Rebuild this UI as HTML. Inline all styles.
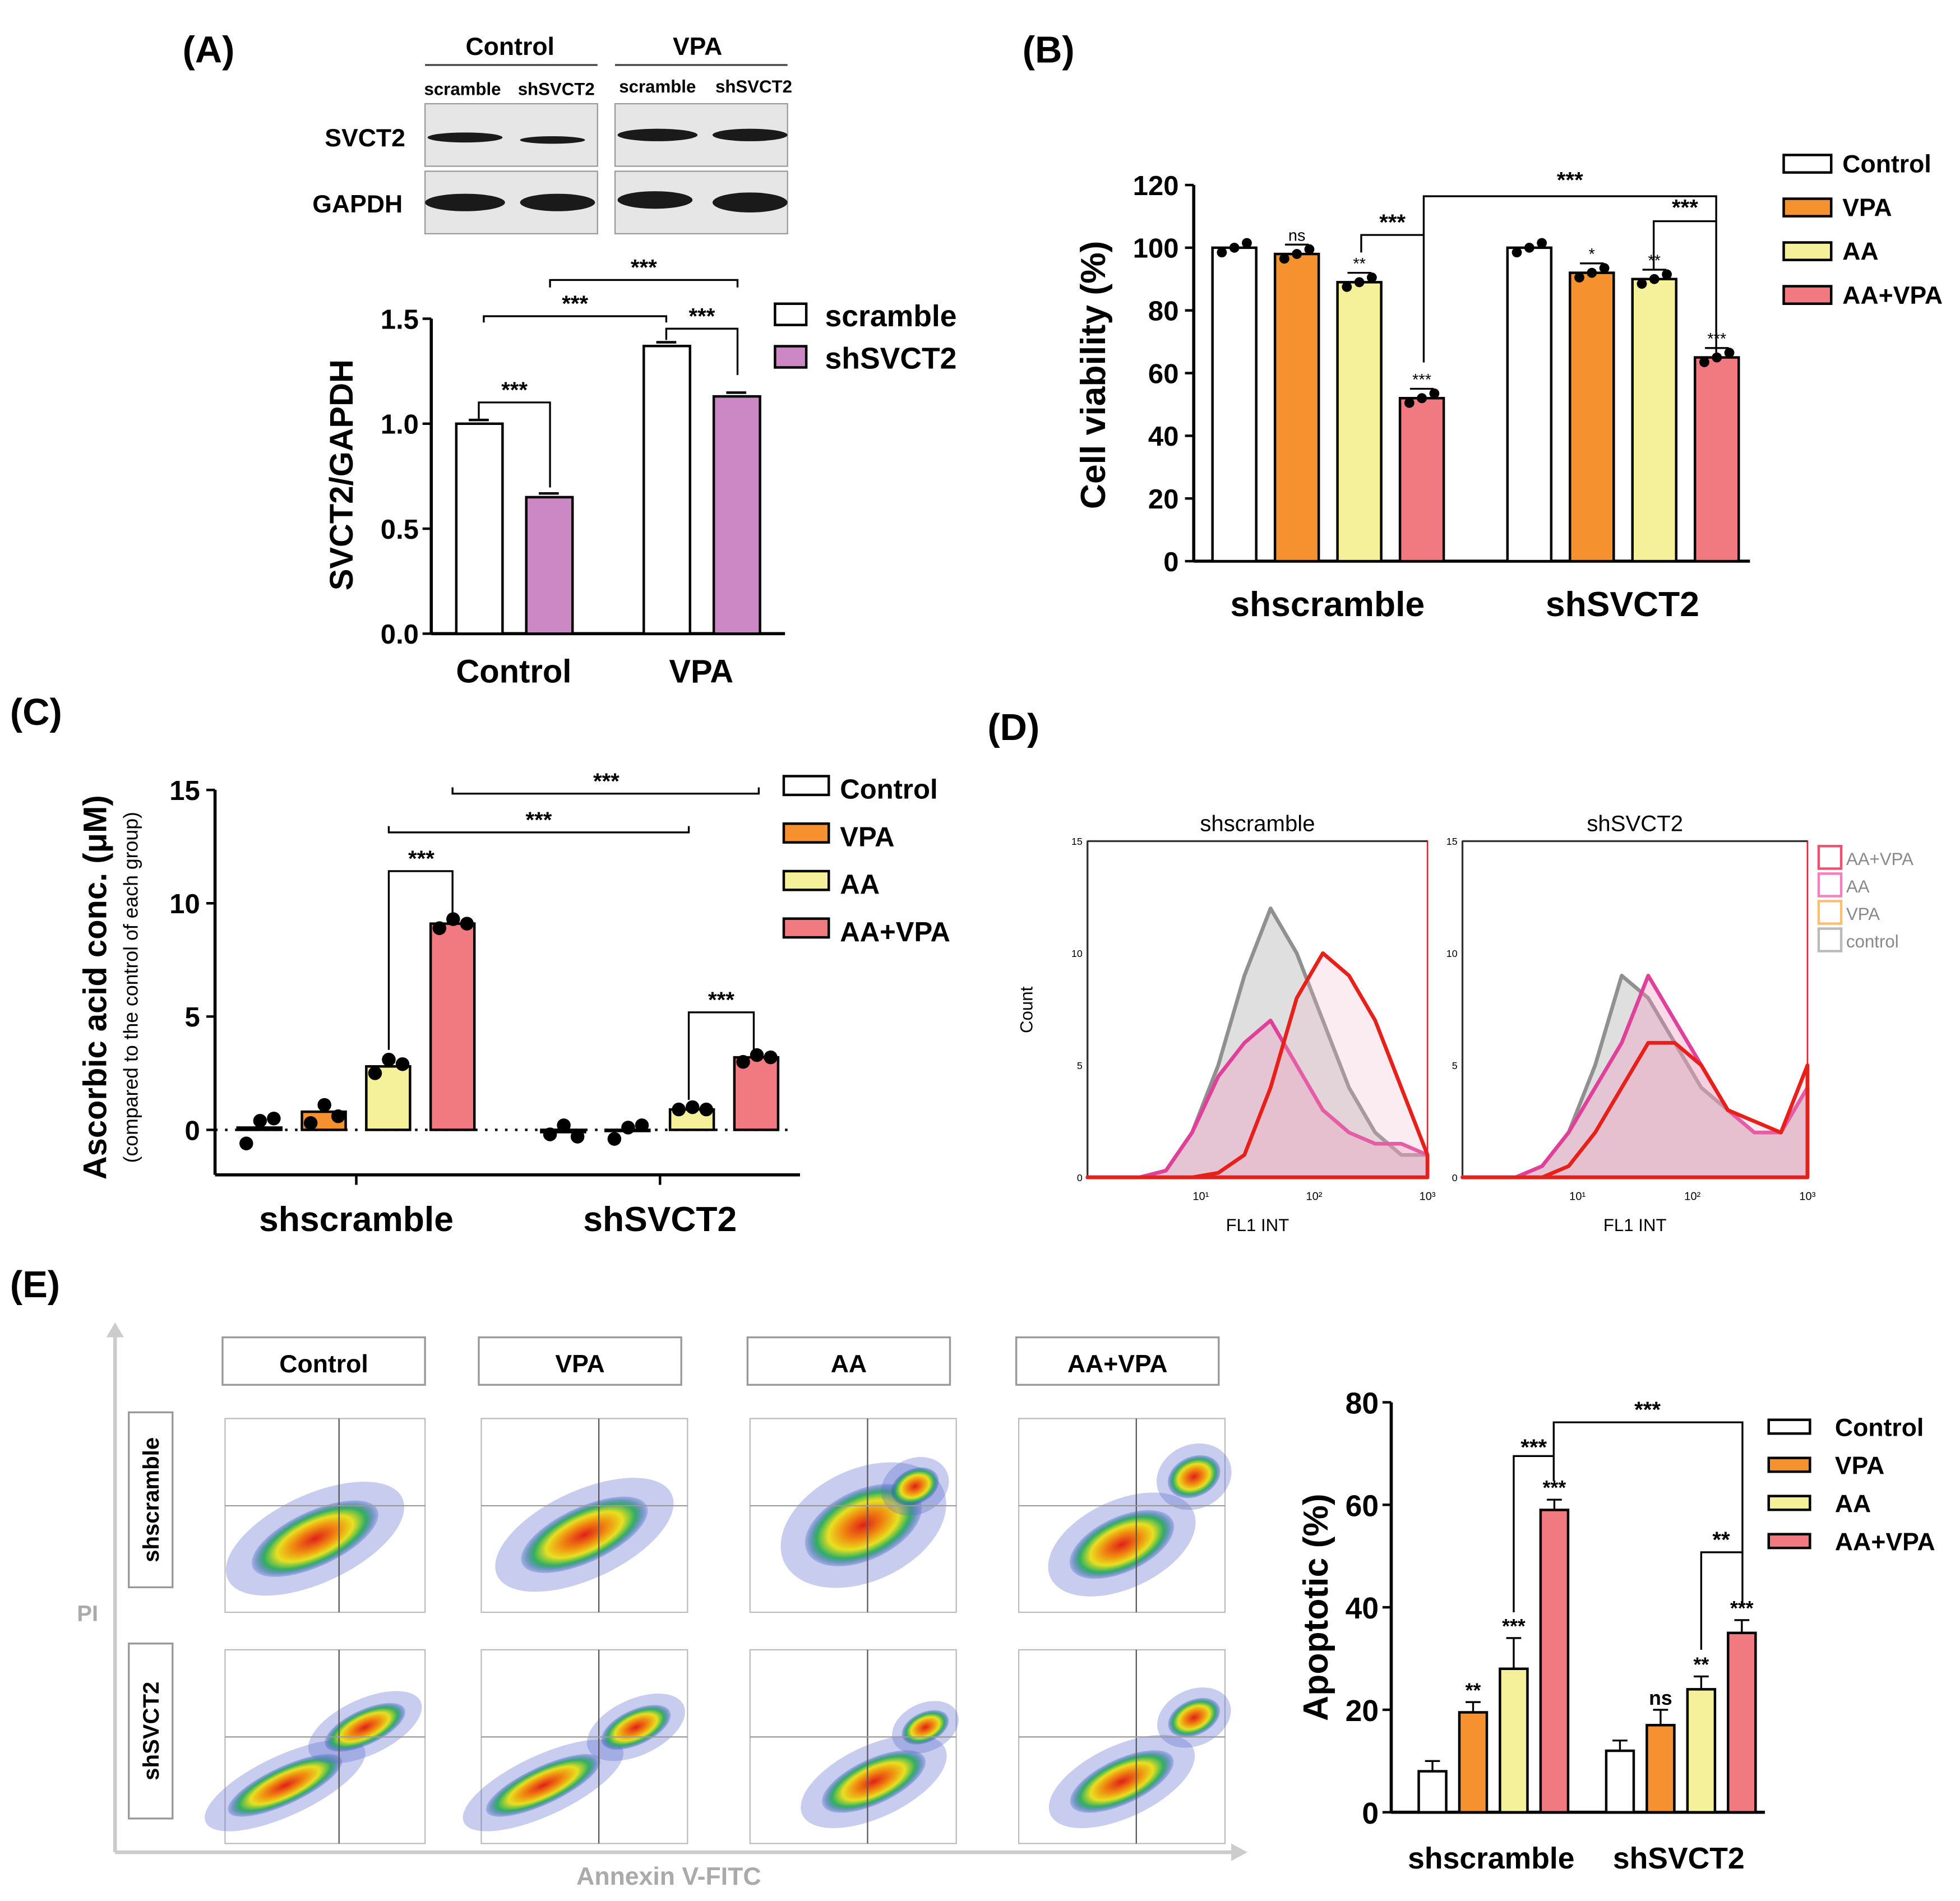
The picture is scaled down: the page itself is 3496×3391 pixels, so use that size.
<!DOCTYPE html>
<html><head><meta charset="utf-8"><style>
html,body{margin:0;padding:0;background:#fff}
svg{display:block}
text{font-family:"Liberation Sans",sans-serif}
</style></head><body>
<svg id="fig" width="3496" height="3391" viewBox="0 0 1568 1521" xmlns="http://www.w3.org/2000/svg">
<defs>
<radialGradient id="dens" cx="50%" cy="50%" r="50%">
<stop offset="0" stop-color="#e0201a"/><stop offset="0.35" stop-color="#f08a10"/><stop offset="0.6" stop-color="#e8e020"/><stop offset="0.8" stop-color="#30b060"/><stop offset="1" stop-color="#2040c0" stop-opacity="0.2"/>
</radialGradient>
</defs>
<g id="root"></g>
<!-- static labels -->
<text x="146" y="50" font-size="30" font-weight="bold">(A)</text>
<text x="818" y="50" font-size="30" font-weight="bold">(B)</text>
<text x="8" y="580" font-size="30" font-weight="bold">(C)</text>
<text x="790" y="592" font-size="30" font-weight="bold">(D)</text>
<text x="8" y="1038" font-size="30" font-weight="bold">(E)</text>
</svg>
<script>
// ---- data ----
const aCats=["Control","VPA"];
const aScramble=[1.0,1.37];
const aShSVCT2=[0.65,1.13];
const aTicks=["0.0","0.5","1.0","1.5"];
const bGroups=["shscramble","shSVCT2"];
const bSeries=["Control","VPA","AA","AA+VPA"];
const bShscramble=[100,98,89,52];
const bShSVCT2=[100,92,90,65];
const bTicks=[0,20,40,60,80,100,120];
const cShscramble=[0.1,0.8,2.8,9.1];
const cShSVCT2=[-0.1,-0.05,0.9,3.2];
const cPtsShscramble=[[-0.6,0.4,0.5],[0.3,1.1,0.6],[2.5,3.1,2.9],[8.9,9.3,9.1]];
const cPtsShSVCT2=[[-0.2,0.2,-0.3],[-0.4,0.1,0.2],[0.9,1.0,0.9],[3.0,3.3,3.2]];
const cTicks=[0,5,10,15];
const eShscramble=[8,19.5,28,59];
const eShSVCT2=[12,17,24,35];
const eErrShscramble=[2,2,6,2];
const eErrShSVCT2=[2,3,2.5,2.5];
const eTicks=[0,20,40,60,80];
const dLeftControl=[0,0,0,0.3,2,5,9,12,10,7,4,2,1,1];
const dLeftAA=[0,0,0,0.3,2,4.5,6,7,5,3,2,1.5,1.5,1];
const dLeftAAVPA=[0,0,0,0,0,0.2,1,4,8,10,9,7,4,1];
const dRightControl=[0,0,0,0.5,2,5,9,8,6,4,3,2,2,4];
const dRightAA=[0,0,0,0.5,2,4,6,9,7,5,3,2,2,4];
const dRightAAVPA=[0,0,0,0,0.5,2,4,6,6,5,3,2.5,2,5];

const NS="http://www.w3.org/2000/svg";
const root=document.getElementById('root');
function mk(tag,attrs,name,parent){
  const el=document.createElementNS(NS,tag);
  for(const k in attrs)el.setAttribute(k,attrs[k]);
  
  
  (parent||root).appendChild(el);return el;
}
function txt(x,y,s,size,name,extra){
  const t=mk('text',Object.assign({x:x,y:y,'font-size':size,'text-anchor':'middle','font-weight':'bold'},extra||{}),name);
  t.textContent=s;return t;
}
const fills=["#ffffff","#f5922f","#f5f19a","#f07a80"];

// ---------- Panel A blot ----------
txt(408,44,"Control",20,"blot-header-control");
txt(558,44,"VPA",20,"blot-header-vpa");
mk('line',{x1:340,y1:52,x2:478,y2:52,stroke:'#444','stroke-width':1.5},"blot-line-control");
mk('line',{x1:492,y1:52,x2:630,y2:52,stroke:'#444','stroke-width':1.5},"blot-line-vpa");
txt(370,76,"scramble",14,"blot-lane-1");txt(445,76,"shSVCT2",14,"blot-lane-2");
txt(526,74,"scramble",14,"blot-lane-3");txt(603,74,"shSVCT2",14,"blot-lane-4");
txt(292,117,"SVCT2",20,"blot-row-svct2");txt(286,170,"GAPDH",20,"blot-row-gapdh");
[[340,83],[492,83],[340,137],[492,137]].forEach((p,i)=>{
  mk('rect',{x:p[0],y:p[1],width:138,height:50,fill:'#e6e6e6',stroke:'#999'},"blot-panel");
});
[[372,110,30,4],[442,112,26,3],[526,108,32,5],[600,108,30,5],[372,162,32,7],[446,162,30,7],[524,160,30,7],[600,162,30,8]].forEach(b=>{
  mk('ellipse',{cx:b[0],cy:b[1],rx:b[2],ry:b[3],fill:'#1a1a1a'},"blot-band");
});
// ---------- Panel A chart ----------
(function(){
  const x0=345,y0=507,k=168;
  const y=v=>y0-v*k;
  mk('line',{x1:x0,y1:y(1.5),x2:x0,y2:y0,stroke:'#000','stroke-width':2.5},"a-y-axis");
  mk('line',{x1:x0,y1:y0,x2:628,y2:y0,stroke:'#000','stroke-width':2.5},"a-x-axis");
  aTicks.forEach(t=>{const yy=y(+t);mk('line',{x1:x0-7,y1:yy,x2:x0,y2:yy,stroke:'#000','stroke-width':2},"a-tick");
    txt(x0-10,yy+8,t,22,"a-tick-label",{'text-anchor':'end'});});
  const cx=[383,533];
  aCats.forEach((c,i)=>{
    const b1=mk('rect',{x:cx[i]-18,y:y(aScramble[i]),width:37,height:aScramble[i]*k,fill:'#fff',stroke:'#000','stroke-width':2},"a-bar-scramble");
    const b2=mk('rect',{x:cx[i]+38,y:y(aShSVCT2[i]),width:37,height:aShSVCT2[i]*k,fill:'#cc88c4',stroke:'#000','stroke-width':2},"a-bar-shsvct2");
    mk('line',{x1:cx[i]-8,y1:y(aScramble[i])-3,x2:cx[i]+8,y2:y(aScramble[i])-3,stroke:'#000','stroke-width':2},"a-error-bar");
    mk('line',{x1:cx[i]+48,y1:y(aShSVCT2[i])-3,x2:cx[i]+64,y2:y(aShSVCT2[i])-3,stroke:'#000','stroke-width':2},"a-error-bar");
    txt(cx[i]+28,546,c,26,"a-x-label");
  });
  txt(0,0,"SVCT2/GAPDH",26,"a-y-title",{transform:'translate(282,380) rotate(-90)'});
  // brackets
  const br=(x1,x2,yt,ya,yb,name,sx)=>{mk('polyline',{points:`${x1},${ya} ${x1},${yt} ${x2},${yt} ${x2},${yb}`,fill:'none',stroke:'#000','stroke-width':1.5},name);txt((x1+x2)/2,yt-4,"***",18,name+"-label");};
  br(383,440,322,335,390,"a-bracket-control");
  br(533,590,263,272,300,"a-bracket-vpa");
  br(387,533,253,258,258,"a-bracket-scramble");
  br(440,590,224,230,230,"a-bracket-shsvct2");
  mk('rect',{x:620,y:243,width:25,height:17,fill:'#fff',stroke:'#000','stroke-width':2},"a-legend-swatch-scramble");
  txt(660,261,"scramble",24,"a-legend-scramble",{'text-anchor':'start'});
  mk('rect',{x:620,y:277,width:25,height:17,fill:'#cc88c4',stroke:'#000','stroke-width':2},"a-legend-swatch-shsvct2");
  txt(660,295,"shSVCT2",24,"a-legend-shsvct2",{'text-anchor':'start'});
})();

// ---------- Panel B ----------
(function(){
  const x0=955,y0=449,k=2.508,y=v=>y0-v*k;
  mk('line',{x1:x0,y1:y(120),x2:x0,y2:y0,stroke:'#000','stroke-width':2.5},"b-y-axis");
  mk('line',{x1:x0,y1:y0,x2:1400,y2:y0,stroke:'#000','stroke-width':2.5},"b-x-axis");
  bTicks.forEach(t=>{const yy=y(t);mk('line',{x1:x0-7,y1:yy,x2:x0,y2:yy,stroke:'#000','stroke-width':2},"b-tick");txt(x0-12,yy+8,t,22,"b-tick-label",{'text-anchor':'end'});});
  const starts=[970,1206];
  const marks=[["","ns","**","***"],["","*","**","***"]];
  [bShscramble,bShSVCT2].forEach((vals,g)=>{
    vals.forEach((v,i)=>{
      const x=starts[g]+i*50;
      mk('rect',{x:x,y:y(v),width:35,height:v*k,fill:fills[i],stroke:'#000','stroke-width':2},"b-bar-"+bSeries[i]);
      [-10,0,10].forEach((dx,j)=>mk('circle',{cx:x+17.5+dx,cy:y(v+(j-1)*1.5),r:4,fill:'#000'},"b-point"));
      if(i>0){mk('line',{x1:x+8,y1:y(v+3),x2:x+27,y2:y(v+3),stroke:'#000','stroke-width':1.5},"b-error-bar");
        txt(x+17.5,y(v+3)-3,marks[g][i],13,"b-sig",{'font-weight':'normal'});}
    });
    txt(starts[g]+92,493,bGroups[g],28,"b-x-label");
  });
  const pl=(pts,n)=>mk('polyline',{points:pts,fill:'none',stroke:'#000','stroke-width':1.5},n);
  pl("1089,202 1089,188 1139,188 1139,290","b-bracket-1");txt(1114,184,"***",18,"b-bracket-1-label");
  pl("1139,188 1139,157 1373,157 1373,282","b-bracket-2");txt(1256,150,"***",18,"b-bracket-2-label");
  pl("1323,215 1323,177 1373,177","b-bracket-3");txt(1348,172,"***",18,"b-bracket-3-label");
  txt(0,0,"Cell viability (%)",28,"b-y-title",{transform:'translate(884,300) rotate(-90)'});
  bSeries.forEach((s,i)=>{mk('rect',{x:1427,y:124+i*35,width:38,height:14,fill:fills[i],stroke:'#000','stroke-width':2},"b-legend-swatch");
    txt(1474,138+i*35,s,20,"b-legend-"+s,{'text-anchor':'start'});});
})();

// ---------- Panel C ----------
(function(){
  const x0=172,y0=904,k=18.13,y=v=>y0-v*k;
  mk('line',{x1:x0,y1:y(15),x2:x0,y2:940,stroke:'#000','stroke-width':2.5},"c-y-axis");
  mk('line',{x1:x0,y1:940,x2:640,y2:940,stroke:'#000','stroke-width':2.5},"c-x-axis");
  mk('line',{x1:x0,y1:y0,x2:632,y2:y0,stroke:'#000','stroke-width':2,'stroke-dasharray':'2,6'},"c-zero-line");
  cTicks.forEach(t=>{const yy=y(t);mk('line',{x1:x0-7,y1:yy,x2:x0,y2:yy,stroke:'#000','stroke-width':2},"c-tick");txt(x0-12,yy+8,t,22,"c-tick-label",{'text-anchor':'end'});});
  const starts=[190,433];
  [[cShscramble,cPtsShscramble],[cShSVCT2,cPtsShSVCT2]].forEach((d,g)=>{
    d[0].forEach((v,i)=>{
      const x=starts[g]+i*51.5;
      mk('rect',{x:x,y:Math.min(y(v),y0),width:35,height:Math.abs(v)*k,fill:fills[i],stroke:'#000','stroke-width':2},"c-bar-"+bSeries[i]);
      d[1][i].forEach((p,j)=>mk('circle',{cx:x+7+j*11,cy:y(p),r:5.5,fill:'#000'},"c-point"));
    });
    mk('line',{x1:starts[g]+95,y1:940,x2:starts[g]+95,y2:948,stroke:'#000','stroke-width':2},"c-x-tick");
    txt(starts[g]+95,985,bGroups[g],28,"c-x-label");
  });
  const pl=(pts,n)=>mk('polyline',{points:pts,fill:'none',stroke:'#000','stroke-width':1.5},n);
  pl("311,840 311,697 362,697 362,733","c-bracket-1");txt(337,693,"***",18,"c-bracket-1-label");
  pl("551,880 551,810 603,810 603,840","c-bracket-2");txt(577,806,"***",18,"c-bracket-2-label");
  pl("311,661 311,666 551,666 551,661","c-bracket-3");txt(431,662,"***",18,"c-bracket-3-label");
  pl("362,630 362,635 607,635 607,630","c-bracket-4");txt(485,631,"***",18,"c-bracket-4-label");
  txt(0,0,"Ascorbic acid conc. (μM)",26,"c-y-title",{transform:'translate(85,790) rotate(-90)'});
  txt(0,0,"(compared to the control of each group)",16,"c-y-subtitle",{transform:'translate(110,790) rotate(-90)','font-weight':'normal'});
  bSeries.forEach((s,i)=>{mk('rect',{x:627,y:621+i*38,width:36,height:15,fill:fills[i],stroke:'#000','stroke-width':2},"c-legend-swatch");
    txt(672,639+i*38,s,22,"c-legend-"+s,{'text-anchor':'start'});});
})();

// ---------- Panel D ----------
(function(){
  const boxes=[[870,1142,"shscramble",[dLeftControl,dLeftAA,dLeftAAVPA]],[1170,1446,"shSVCT2",[dRightControl,dRightAA,dRightAAVPA]]];
  const y0=942,yt=673,k=(y0-yt)/15;
  boxes.forEach((b,bi)=>{
    const [xl,xr,title,series]=b;
    mk('rect',{x:xl,y:yt,width:xr-xl,height:y0-yt,fill:'#fff',stroke:'#e23',"stroke-width":1.2},"d-plot-box");
    mk('line',{x1:xl,y1:yt,x2:xr,y2:yt,stroke:'#333','stroke-width':1.5},"d-top-border");
    mk('line',{x1:xl,y1:yt,x2:xl,y2:y0,stroke:'#333','stroke-width':1.5},"d-y-axis");
    txt((xl+xr)/2,665,title,18,"d-title",{'font-weight':'normal'});
    [0,5,10,15].forEach(t=>txt(xl-4,y0-t*k+3,t,8,"d-tick-label",{'font-weight':'normal','text-anchor':'end'}));
    ["10¹","10²","10³"].forEach((t,i)=>txt(xl+(xr-xl)*(i+1)/3,y0+18,t,9,"d-x-tick-label",{'font-weight':'normal'}));
    txt((xl+xr)/2,985,"FL1 INT",14,"d-x-title",{'font-weight':'normal'});
    const cols=["#909090","#e0409a","#e8201a"];
    const fillc=["rgba(150,150,150,0.3)","rgba(240,150,190,0.35)","rgba(240,180,200,0.25)"];
    series.forEach((s,si)=>{
      const n=s.length,step=(xr-xl)/(n-1);
      let pts=s.map((v,i)=>`${xl+i*step},${y0-v*k}`).join(' ');
      mk('polygon',{points:`${xl},${y0} ${pts} ${xr},${y0}`,fill:fillc[si],stroke:cols[si],'stroke-width':3,'stroke-linejoin':'round'},"d-histogram");
    });
  });
  txt(0,0,"Count",14,"d-y-title",{transform:'translate(826,808) rotate(-90)','font-weight':'normal'});
  ["AA+VPA","AA","VPA","control"].forEach((s,i)=>{
    const c=["#f05070","#f080c0","#f8c070","#bbb"][i];
    mk('rect',{x:1455,y:677+i*22,width:18,height:18,fill:'#fff',stroke:c,'stroke-width':2},"d-legend-swatch");
    txt(1477,692+i*22,s,14,"d-legend-"+s,{'text-anchor':'start','font-weight':'normal','fill':'#888'});
  });
})();

// ---------- Panel E scatter ----------
(function(){
  const cols=[[180,340],[385,550],[600,765],[815,980]];
  const rows=[[1135,1290],[1320,1475]];
  const heads=["Control","VPA","AA","AA+VPA"];
  mk('line',{x1:92,y1:1482,x2:92,y2:1065,stroke:'#ccc','stroke-width':3},"e-pi-axis");
  mk('polygon',{points:"85,1070 92,1058 99,1070",fill:'#ccc'},"e-pi-arrow");
  mk('line',{x1:92,y1:1482,x2:990,y2:1482,stroke:'#ccc','stroke-width':3},"e-annexin-axis");
  mk('polygon',{points:"985,1475 998,1482 985,1489",fill:'#ccc'},"e-annexin-arrow");
  txt(70,1297,"PI",18,"e-pi-label",{fill:'#aaa'});
  txt(535,1508,"Annexin V-FITC",20,"e-annexin-label",{fill:'#aaa'});
  heads.forEach((h,i)=>{mk('rect',{x:cols[i][0]-2,y:1070,width:162,height:38,fill:'#fff',stroke:'#999','stroke-width':1.5},"e-col-header-box");
    txt(cols[i][0]+79,1098,h,20,"e-col-header");});
  ["shscramble","shSVCT2"].forEach((r,j)=>{mk('rect',{x:103,y:rows[j][0]-5,width:35,height:140,fill:'#fff',stroke:'#999','stroke-width':1.5},"e-row-header-box");
    txt(0,0,r,18,"e-row-header",{transform:`translate(127,${rows[j][0]+65}) rotate(-90)`});});
  // blob specs: [cx frac, cy frac, rx, ry, rot]
  const blobs=[
   [[[0.45,0.62,55,22]],[[0.5,0.6,55,22]],[[0.55,0.55,50,28],[0.8,0.35,20,14]],[[0.5,0.65,45,22],[0.85,0.3,22,16]]],
   [[[0.3,0.7,50,15],[0.7,0.4,35,14]],[[0.3,0.7,50,15],[0.75,0.4,30,14]],[[0.6,0.68,45,18],[0.85,0.4,20,12]],[[0.5,0.68,45,18],[0.85,0.35,22,14]]]];
  rows.forEach((rw,j)=>cols.forEach((c,i)=>{
    const w=c[1]-c[0],h=rw[1]-rw[0];
    mk('rect',{x:c[0],y:rw[0],width:w,height:h,fill:'#fff',stroke:'#bbb'},"e-scatter-plot");
    blobs[j][i].forEach(b=>{
      const cx=c[0]+b[0]*w,cy=rw[0]+b[1]*h;
      mk('ellipse',{cx:cx,cy:cy,rx:b[2]*1.4,ry:b[3]*1.6,fill:'#6070d0','fill-opacity':0.35,transform:`rotate(-25 ${cx} ${cy})`},"e-scatter-halo");
      mk('ellipse',{cx:cx,cy:cy,rx:b[2],ry:b[3],fill:'url(#dens)',transform:`rotate(-25 ${cx} ${cy})`},"e-scatter-density");
    });
    mk('line',{x1:c[0]+0.57*w,y1:rw[0],x2:c[0]+0.57*w,y2:rw[1],stroke:'#555'},"e-quadrant-v");
    mk('line',{x1:c[0],y1:rw[0]+0.45*h,x2:c[1],y2:rw[0]+0.45*h,stroke:'#999'},"e-quadrant-h");
  }));
})();

// ---------- Panel E bar chart ----------
(function(){
  const x0=1113,y0=1450,k=4.1,y=v=>y0-v*k;
  mk('line',{x1:x0,y1:y(80),x2:x0,y2:y0,stroke:'#000','stroke-width':2.5},"e-y-axis");
  mk('line',{x1:x0,y1:y0,x2:1412,y2:y0,stroke:'#000','stroke-width':2.5},"e-x-axis");
  eTicks.forEach(t=>{const yy=y(t);mk('line',{x1:x0-7,y1:yy,x2:x0,y2:yy,stroke:'#000','stroke-width':2},"e-tick");txt(x0-10,yy+9,t,24,"e-tick-label",{'text-anchor':'end'});});
  const starts=[1135,1285];
  const marks=[["","**","***","***"],["","ns","**","***"]];
  [[eShscramble,eErrShscramble],[eShSVCT2,eErrShSVCT2]].forEach((d,g)=>{
    d[0].forEach((v,i)=>{
      const x=starts[g]+i*32.5,e=d[1][i];
      mk('line',{x1:x+11,y1:y(v),x2:x+11,y2:y(v+e),stroke:'#000','stroke-width':1.5},"e-error-line");
      mk('line',{x1:x+5,y1:y(v+e),x2:x+17,y2:y(v+e),stroke:'#000','stroke-width':1.5},"e-error-cap");
      mk('rect',{x:x,y:y(v),width:22,height:v*k,fill:fills[i],stroke:'#000','stroke-width':2},"e-bar-"+bSeries[i]);
      if(marks[g][i])txt(x+11,y(v+e)-4,marks[g][i],16,"e-sig");
    });
    txt(starts[g]+58,1495,["shscramble","shSVCT2"][g],24,"e-x-label");
  });
  const pl=(pts,n)=>mk('polyline',{points:pts,fill:'none',stroke:'#000','stroke-width':1.5},n);
  pl("1211,1290 1211,1165 1243,1165 1243,1185","e-bracket-1");txt(1227,1164,"***",18,"e-bracket-1-label");
  pl("1243,1165 1243,1138 1394,1138 1394,1285","e-bracket-2");txt(1318,1134,"***",18,"e-bracket-2-label");
  pl("1361,1320 1361,1242 1394,1242","e-bracket-3");txt(1377,1238,"**",18,"e-bracket-3-label");
  txt(0,0,"Apoptotic (%)",28,"e-y-title",{transform:'translate(1062,1286) rotate(-90)'});
  bSeries.forEach((s,i)=>{mk('rect',{x:1415,y:1136+i*30.5,width:33,height:11,fill:fills[i],stroke:'#000','stroke-width':2},"e-legend-swatch");
    txt(1468,1149+i*30.5,s,20,"e-legend-"+s,{'text-anchor':'start'});});
})();
</script>
</body></html>
